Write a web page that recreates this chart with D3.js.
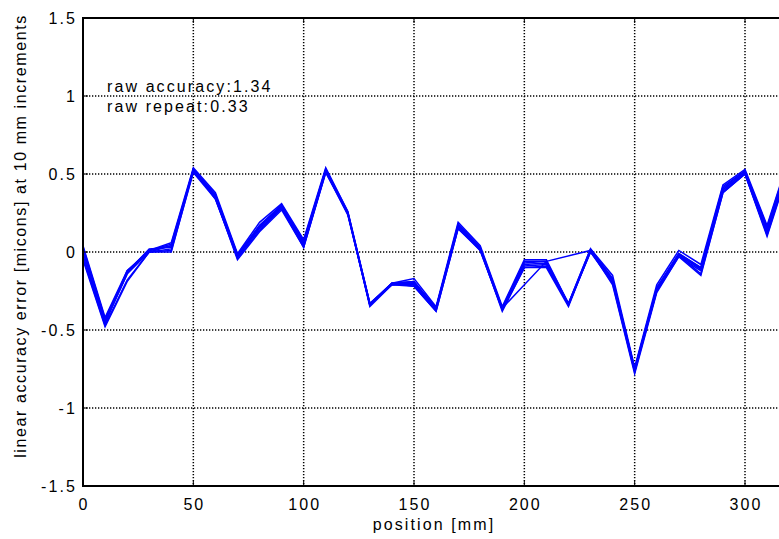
<!DOCTYPE html>
<html>
<head>
<meta charset="utf-8">
<script src="https://cdn.jsdelivr.net/npm/d3@7"></script>
<style>
  html, body { margin: 0; padding: 0; background: #fff; }
  svg { display: block; }
  text { font-family: "Liberation Sans", Arial, Helvetica, sans-serif; }
</style>
</head>
<body>
<svg id="chart" width="779" height="539"></svg>
<script>
const positions = [0,10,20,30,40,50,60,70,80,90,100,110,120,130,140,150,160,170,180,190,200,210,220,230,240,250,260,270,280,290,300,310,320];
const run1 = [0.04,-0.42,-0.12,0.01,0.06,0.54,0.38,-0.01,0.19,0.31,0.08,0.54,0.26,-0.33,-0.20,-0.17,-0.35,0.19,0.04,-0.35,-0.05,-0.05,-0.33,0.02,-0.15,-0.74,-0.21,0.01,-0.08,0.43,0.53,0.17,0.61];
const run2 = [0.02,-0.44,-0.13,0.01,0.05,0.53,0.36,-0.02,0.17,0.30,0.06,0.53,0.25,-0.34,-0.20,-0.19,-0.36,0.17,0.03,-0.36,-0.07,-0.06,-0.34,0.01,-0.17,-0.75,-0.23,-0.01,-0.10,0.41,0.52,0.15,0.59];
const run3 = [0.00,-0.45,-0.14,0.00,0.04,0.52,0.35,-0.03,0.16,0.29,0.05,0.52,0.24,-0.34,-0.21,-0.20,-0.36,0.16,0.02,-0.36,-0.08,-0.07,-0.34,0.01,-0.18,-0.76,-0.24,-0.02,-0.11,0.40,0.51,0.14,0.57];
const run4 = [-0.02,-0.46,-0.12,0.00,0.02,0.53,0.34,-0.03,0.15,0.28,0.04,0.51,0.25,-0.33,-0.21,-0.21,-0.37,0.16,0.01,-0.37,-0.09,-0.08,-0.33,0.00,-0.19,-0.76,-0.25,-0.03,-0.12,0.39,0.50,0.12,0.56];
const run5 = [-0.04,-0.47,-0.18,0.00,0.01,0.51,0.34,-0.04,0.14,0.28,0.03,0.51,0.24,-0.34,-0.20,-0.22,-0.38,0.15,0.01,-0.37,-0.10,-0.09,-0.34,0.00,-0.20,-0.77,-0.25,-0.02,-0.14,0.38,0.50,0.11,0.55];
const run6 = [0.03,-0.43,-0.13,0.02,0.03,0.53,0.37,-0.02,0.17,0.30,0.07,0.53,0.26,-0.33,-0.20,-0.19,-0.36,0.18,0.03,-0.36,-0.06,-0.06,-0.33,0.02,-0.17,-0.75,-0.23,-0.01,-0.10,0.42,0.52,0.16,0.60];
const run7 = [-0.05,-0.48,-0.19,0.00,0.00,0.52,0.35,-0.05,0.13,0.27,0.03,0.52,0.25,-0.35,-0.21,-0.22,-0.38,0.15,0.02,-0.38,-0.10,-0.10,-0.35,0.01,-0.21,-0.78,-0.26,-0.03,-0.15,0.38,0.50,0.10,0.54];
const run8 = [0.01,-0.45,-0.14,0.01,0.04,0.52,0.36,-0.02,0.16,0.29,0.05,0.52,0.25,-0.34,-0.20,-0.20,-0.36,0.17,0.02,-0.36,null,-0.06,null,0.01,-0.18,-0.76,-0.24,-0.02,-0.11,0.40,0.51,0.14,0.58];
const runs = [run1, run2, run3, run4, run5, run6, run7, run8];

const xTicks = [0,50,100,150,200,250,300];
const yTicks = [-1.5,-1,-0.5,0,0.5,1,1.5];
const yTickLabels = ["-1.5","-1","-0.5","0","0.5","1","1.5"];
const annotations = ["raw accuracy:1.34", "raw repeat:0.33"];
const xLabel = "position [mm]";
const yLabel = "linear accuracy error [micons] at 10 mm increments";

const svg = d3.select("#chart");
const W = 779;
const FS = 16, LS = 2.1;
const x = d3.scaleLinear().domain([0, 300]).range([83, 745]);
const y = d3.scaleLinear().domain([-1.5, 1.5]).range([486, 18]);

// grid
const grid = svg.append("g").attr("stroke", "#000").attr("stroke-width", 1.5).attr("stroke-dasharray", "1.3,1.7");
grid.selectAll("line.gx").data(xTicks.slice(1)).join("line")
  .attr("x1", d => x(d)).attr("x2", d => x(d)).attr("y1", y(1.5)).attr("y2", y(-1.5));
grid.selectAll("line.gy").data(yTicks.slice(1, -1)).join("line")
  .attr("x1", x(0)).attr("x2", W).attr("y1", d => y(d)).attr("y2", d => y(d));

// data lines
const line = d3.line().x(d => x(d[0])).y(d => y(d[1]));
svg.append("g").selectAll("path").data(runs).join("path")
  .attr("d", r => line(positions.map((p, i) => [p, r[i]]).filter(d => d[1] !== null)))
  .attr("fill", "none").attr("stroke", "#0000ff").attr("stroke-width", 1.5)
  .attr("stroke-linejoin", "miter");

// axes box
const ax = svg.append("g").attr("stroke", "#000").attr("stroke-width", 2);
ax.append("line").attr("x1", x(0)).attr("x2", x(0)).attr("y1", y(1.5) - 1).attr("y2", y(-1.5) + 1);
ax.append("line").attr("x1", x(0)).attr("x2", W).attr("y1", y(1.5)).attr("y2", y(1.5));
ax.append("line").attr("x1", x(0)).attr("x2", W).attr("y1", y(-1.5)).attr("y2", y(-1.5));

// inward ticks
const tk = svg.append("g").attr("stroke", "#000").attr("stroke-width", 1);
tk.selectAll("line.tb").data(xTicks).join("line")
  .attr("x1", d => x(d)).attr("x2", d => x(d)).attr("y1", y(-1.5)).attr("y2", y(-1.5) - 5);
tk.selectAll("line.tt").data(xTicks).join("line")
  .attr("x1", d => x(d)).attr("x2", d => x(d)).attr("y1", y(1.5)).attr("y2", y(1.5) + 5);
tk.selectAll("line.tl").data(yTicks).join("line")
  .attr("x1", x(0)).attr("x2", x(0) + 5).attr("y1", d => y(d)).attr("y2", d => y(d));

// tick labels
svg.append("g").selectAll("text").data(xTicks).join("text")
  .attr("x", d => x(d) + LS / 2).attr("y", 510).attr("text-anchor", "middle")
  .attr("font-size", FS).attr("letter-spacing", LS).attr("fill", "#000").text(d => d);
svg.append("g").selectAll("text").data(yTicks).join("text")
  .attr("x", 77).attr("y", d => y(d) + 6).attr("text-anchor", "end")
  .attr("font-size", FS).attr("letter-spacing", LS).attr("fill", "#000").text((d, i) => yTickLabels[i]);

// axis labels
svg.append("text").attr("x", 434).attr("y", 530).attr("text-anchor", "middle")
  .attr("font-size", FS).attr("letter-spacing", LS).text(xLabel);
svg.append("text").attr("transform", "translate(26,236) rotate(-90)").attr("text-anchor", "middle")
  .attr("font-size", FS).attr("letter-spacing", 1.6).text(yLabel);

// annotations
svg.append("g").selectAll("text").data(annotations).join("text")
  .attr("x", 107).attr("y", (d, i) => 92 + i * 20)
  .attr("font-size", FS).attr("letter-spacing", LS).text(d => d);
</script>
</body>
</html>
